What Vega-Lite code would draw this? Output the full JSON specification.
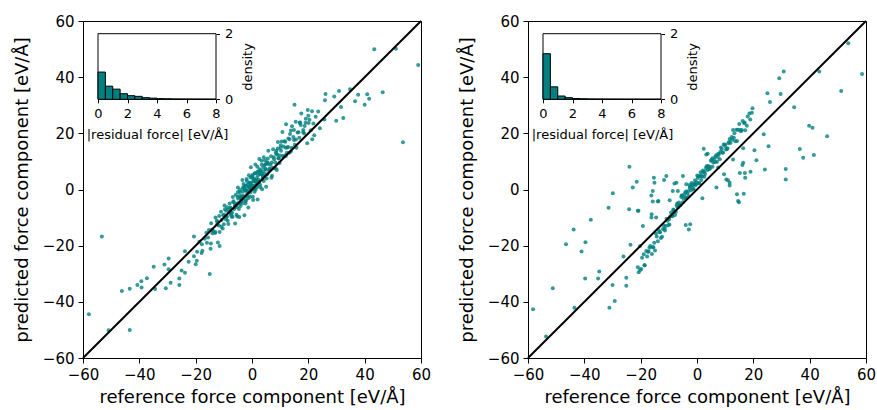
{
"$schema": "https://vega.github.io/schema/vega-lite/v6.json",
"background": "white",
"padding": {"left": 12, "top": 13, "right": 5, "bottom": 5},
"bounds": "flush",
"spacing": 107,
"config": {
 "font": "DejaVu Sans",
 "view": {"stroke": "black", "strokeWidth": 1},
 "axis": {"grid": false, "domain": false, "tickColor": "black", "labelColor": "black", "titleColor": "black", "titleFontWeight": "normal", "tickSize": 5, "labelFontSize": 15, "titleFontSize": 18, "labelPadding": 4, "labelFlush": false, "labelOverlap": false, "titlePadding": 5}
},
"datasets": {
 "diag": [{"ref": -60, "pred": -60}, {"ref": 60, "pred": 60}],
 "hL": [{"lo":0,"hi":0.5,"density":0.83},{"lo":0.5,"hi":1,"density":0.40},{"lo":1,"hi":1.5,"density":0.31},{"lo":1.5,"hi":2,"density":0.17},{"lo":2,"hi":2.5,"density":0.11},{"lo":2.5,"hi":3,"density":0.09},{"lo":3,"hi":3.5,"density":0.05},{"lo":3.5,"hi":4,"density":0.035},{"lo":4,"hi":4.5,"density":0.02},{"lo":4.5,"hi":5,"density":0.015},{"lo":5,"hi":5.5,"density":0.01},{"lo":5.5,"hi":6,"density":0.008},{"lo":6,"hi":6.5,"density":0.006},{"lo":6.5,"hi":7,"density":0.005},{"lo":7,"hi":7.5,"density":0.004},{"lo":7.5,"hi":8,"density":0.003}],
 "hR": [{"lo":0,"hi":0.5,"density":1.39},{"lo":0.5,"hi":1,"density":0.38},{"lo":1,"hi":1.5,"density":0.10},{"lo":1.5,"hi":2,"density":0.05},{"lo":2,"hi":2.5,"density":0.025},{"lo":2.5,"hi":3,"density":0.015},{"lo":3,"hi":3.5,"density":0.01},{"lo":3.5,"hi":4,"density":0.008},{"lo":4,"hi":4.5,"density":0.006},{"lo":4.5,"hi":5,"density":0.005},{"lo":5,"hi":5.5,"density":0.004},{"lo":5.5,"hi":6,"density":0.003},{"lo":6,"hi":6.5,"density":0.003},{"lo":6.5,"hi":7,"density":0.002},{"lo":7,"hi":7.5,"density":0.002},{"lo":7.5,"hi":8,"density":0.002}],
 "L": [
{"ref":-53.3,"pred":-16.7},{"ref":-57.9,"pred":-44.4},{"ref":-50.9,"pred":-50.1},{"ref":-43.4,"pred":-50},{"ref":-46.2,"pred":-36.1},{"ref":-43.4,"pred":-35.3},{"ref":-40.7,"pred":-34},{"ref":-39.3,"pred":-32.7},{"ref":-37.3,"pred":-31.6},{"ref":-39.2,"pred":-34.9},{"ref":-34.9,"pred":-27.5},{"ref":-34.4,"pred":-35.4},{"ref":-31.1,"pred":-26.7},{"ref":-29.6,"pred":-24.6},{"ref":-29.6,"pred":-28.4},{"ref":-30.6,"pred":-35.2},{"ref":-28.9,"pred":-33.2},{"ref":-25.8,"pred":-31.7},{"ref":-25.8,"pred":-34},{"ref":-25,"pred":-28.8},{"ref":-23.8,"pred":-22},{"ref":-23.8,"pred":-29.6},{"ref":-22.5,"pred":-25.7},{"ref":-20.6,"pred":-16.7},{"ref":-20.6,"pred":-23.8},{"ref":-19.6,"pred":-25.4},{"ref":-20,"pred":-26.6},{"ref":-17.8,"pred":-19.5},{"ref":-17.9,"pred":-22.6},{"ref":-15,"pred":-30.1},{"ref":-14.7,"pred":-21.1},{"ref":-14.5,"pred":-12},{"ref":-12.1,"pred":-18.9},{"ref":-11.5,"pred":-20.1},{"ref":-16.2,"pred":-15.4},{"ref":-15.6,"pred":-17.1},
{"ref":43.4,"pred":49.9},{"ref":51.1,"pred":50.1},{"ref":59,"pred":44.3},{"ref":53.6,"pred":16.8},{"ref":15.1,"pred":30.2},{"ref":26.1,"pred":34},{"ref":25.9,"pred":31.8},{"ref":30.9,"pred":35.1},{"ref":29.2,"pred":33.1},{"ref":34.8,"pred":35.7},{"ref":37.7,"pred":33.7},{"ref":40.9,"pred":33.9},{"ref":41.6,"pred":32.3},{"ref":46.4,"pred":34.6},{"ref":36.6,"pred":31.4},{"ref":40,"pred":30.2},{"ref":31.6,"pred":29.4},{"ref":29.9,"pred":24.5},{"ref":32.4,"pred":25.5},{"ref":20,"pred":26.3},{"ref":20.4,"pred":24.8},{"ref":24.1,"pred":21.8},{"ref":25.7,"pred":24.9},{"ref":21.4,"pred":17.9},{"ref":19.6,"pred":16.5},{"ref":18.7,"pred":22.6},
{"ref":10.8,"pred":20.5},{"ref":12.1,"pred":23.2},{"ref":13.5,"pred":19.8},{"ref":14.2,"pred":22.5},{"ref":15.5,"pred":24.1},{"ref":16.2,"pred":20.3},{"ref":17.1,"pred":23.9},{"ref":18.2,"pred":21.2},{"ref":19.1,"pred":25.2},{"ref":11.5,"pred":17.2},{"ref":12.8,"pred":15.1},{"ref":14.9,"pred":17.6},{"ref":16.8,"pred":18.4},{"ref":18.5,"pred":19.9},{"ref":20.9,"pred":21.1},{"ref":21.8,"pred":23.5},{"ref":22.6,"pred":25.9},{"ref":17.5,"pred":27.1},{"ref":19.8,"pred":28.3},{"ref":13.2,"pred":13.1},{"ref":15.8,"pred":14.9},{"ref":10.1,"pred":14.8},{"ref":11.9,"pred":12.2},{"ref":9.2,"pred":16.9},{"ref":8.5,"pred":13.2},{"ref":23.5,"pred":27.8},{"ref":22.1,"pred":19.3},
{"ref":-14.2,"pred":-14.3},{"ref":-13.1,"pred":-15.5},{"ref":-12.5,"pred":-11.1},{"ref":-11.8,"pred":-12.8},{"ref":-11,"pred":-7.9},{"ref":-10.4,"pred":-13.9},{"ref":-9.9,"pred":-9},{"ref":-9.3,"pred":-10.6},{"ref":-8.8,"pred":-6.3},{"ref":-8.1,"pred":-8.1},{"ref":-7.7,"pred":-6.4},{"ref":-7.2,"pred":-9.7},{"ref":-6.8,"pred":-2.7},{"ref":-6.3,"pred":-6.9},{"ref":-5.9,"pred":-5},{"ref":-5.5,"pred":-9},{"ref":-5.1,"pred":-2.6},{"ref":-4.8,"pred":-4.8},{"ref":-4.4,"pred":-2.3},{"ref":-4.1,"pred":-5.9},{"ref":-3.8,"pred":-2.9},{"ref":-3.5,"pred":-5},{"ref":-3.2,"pred":-0.8},{"ref":-2.9,"pred":-3},{"ref":-2.6,"pred":1.3},{"ref":-2.3,"pred":-5},{"ref":-2,"pred":-0.3},{"ref":-1.8,"pred":-2.4},{"ref":-1.5,"pred":1.8},{"ref":-1.2,"pred":-0.5},{"ref":-1,"pred":1},{"ref":-0.7,"pred":-2.6},{"ref":-0.5,"pred":4.3},{"ref":-0.2,"pred":-0.2},{"ref":0,"pred":1.5},{"ref":0.3,"pred":-2.6},{"ref":0.5,"pred":3.6},{"ref":0.8,"pred":1.4},{"ref":1,"pred":3.6},{"ref":1.3,"pred":0},{"ref":1.5,"pred":3},{"ref":1.8,"pred":0.9},{"ref":2.1,"pred":5},{"ref":2.4,"pred":2.8},{"ref":2.7,"pred":7.2},{"ref":3,"pred":0.8},{"ref":3.3,"pred":5.5},{"ref":3.7,"pred":3.7},{"ref":4,"pred":7.8},{"ref":4.4,"pred":5.6},{"ref":4.8,"pred":7.4},{"ref":5.2,"pred":3.9},{"ref":5.6,"pred":11},{"ref":6.1,"pred":6.7},{"ref":6.6,"pred":8.8},{"ref":7.1,"pred":4.9},{"ref":7.7,"pred":11.5},{"ref":8.3,"pred":9.6},{"ref":9,"pred":12.4},{"ref":9.8,"pred":9.4},
{"ref":-14.05,"pred":-15.6},{"ref":-12.95,"pred":-10},{"ref":-12.35,"pred":-12.5},{"ref":-11.65,"pred":-9.4},{"ref":-10.85,"pred":-13.3},{"ref":-10.25,"pred":-9.2},{"ref":-9.75,"pred":-5.7},{"ref":-9.15,"pred":-9.8},{"ref":-8.65,"pred":-11.1},{"ref":-7.95,"pred":-5},{"ref":-7.55,"pred":-6.7},{"ref":-7.05,"pred":-8.3},{"ref":-6.65,"pred":-4.5},{"ref":-6.15,"pred":-6.2},{"ref":-5.75,"pred":-1.9},{"ref":-5.35,"pred":-6.2},{"ref":-4.95,"pred":-3.2},{"ref":-4.65,"pred":-6.9},{"ref":-4.25,"pred":-0.2},{"ref":-3.95,"pred":-3.1},{"ref":-3.65,"pred":-4.1},{"ref":-3.35,"pred":0.5},{"ref":-3.05,"pred":-2.3},{"ref":-2.75,"pred":0.4},{"ref":-2.45,"pred":-4.1},{"ref":-2.15,"pred":-0.3},{"ref":-1.85,"pred":3},{"ref":-1.65,"pred":-1.5},{"ref":-1.35,"pred":-3.1},{"ref":-1.05,"pred":2.5},{"ref":-0.85,"pred":0.7},{"ref":-0.55,"pred":-1.1},{"ref":-0.35,"pred":2.4},{"ref":-0.05,"pred":0.5},{"ref":0.15,"pred":4.6},{"ref":0.45,"pred":0.2},{"ref":0.65,"pred":2.9},{"ref":0.95,"pred":-0.8},{"ref":1.15,"pred":5.8},{"ref":1.45,"pred":2.8},{"ref":1.65,"pred":1.7},{"ref":1.95,"pred":6.3},{"ref":2.25,"pred":3.6},{"ref":2.55,"pred":6.2},{"ref":2.85,"pred":1.7},{"ref":3.15,"pred":5.6},{"ref":3.45,"pred":8.8},{"ref":3.85,"pred":4.5},{"ref":4.15,"pred":3},{"ref":4.55,"pred":8.7},{"ref":4.95,"pred":7},{"ref":5.35,"pred":5.4},{"ref":5.75,"pred":9.1},{"ref":6.25,"pred":7.5},{"ref":6.75,"pred":11.8},{"ref":7.25,"pred":7.7},{"ref":7.85,"pred":10.8},{"ref":8.45,"pred":7.5},{"ref":9.15,"pred":14.6},{"ref":9.95,"pred":12.1},
{"ref":-4.3,"pred":-1},{"ref":-3.6,"pred":-2.8},{"ref":-3,"pred":2},{"ref":-2.5,"pred":-0.3},{"ref":-2.1,"pred":1.3},{"ref":-1.6,"pred":-1.1},{"ref":-1.1,"pred":5.1},{"ref":-0.7,"pred":2.3},{"ref":-0.3,"pred":1.5},{"ref":0.2,"pred":5.2},{"ref":0.6,"pred":3.1},{"ref":1,"pred":5.8},{"ref":1.4,"pred":2.8},{"ref":1.9,"pred":8.1},{"ref":2.3,"pred":6.2},{"ref":2.8,"pred":5.5},{"ref":3.4,"pred":10.2},{"ref":3.9,"pred":6.4},{"ref":4.6,"pred":10.4},{"ref":5.4,"pred":9.4},
{"ref":-6,"pred":-12.1},{"ref":-5,"pred":0.7},{"ref":-4.5,"pred":-9.8},{"ref":-3.4,"pred":3.4},{"ref":-2.7,"pred":-9.2},{"ref":-1.9,"pred":3.7},{"ref":-1.3,"pred":-6.4},{"ref":-0.4,"pred":7.9},{"ref":0.4,"pred":-3.7},{"ref":1.2,"pred":8.9},{"ref":2,"pred":-3.6},{"ref":2.6,"pred":10.9},{"ref":3.6,"pred":0.1},{"ref":4.2,"pred":11.5},{"ref":5,"pred":1},{"ref":5.8,"pred":13.8},{"ref":6.9,"pred":4.2},{"ref":7.5,"pred":14.3},{"ref":8.8,"pred":6.9},{"ref":10.5,"pred":17.1},{"ref":11.2,"pred":15.3},{"ref":12.4,"pred":13.1},
{"ref":10.3,"pred":13.8},{"ref":11,"pred":11.9},{"ref":11.8,"pred":17},{"ref":12.6,"pred":15},{"ref":13.3,"pred":17.9},{"ref":14.1,"pred":14.9},{"ref":14.9,"pred":21.2},{"ref":15.6,"pred":17.8},{"ref":16.5,"pred":20.4},{"ref":17.3,"pred":23},{"ref":18.2,"pred":20.4},{"ref":19,"pred":23.8},{"ref":20.1,"pred":23.7},{"ref":21.3,"pred":27.9},{"ref":12,"pred":11.9},{"ref":13.8,"pred":21},{"ref":15.2,"pred":15.9},{"ref":16.9,"pred":23.8},{"ref":9.5,"pred":11.1},{"ref":8.7,"pred":13.8},
{"ref":-19.5,"pred":-22.2},{"ref":-18.7,"pred":-18.6},{"ref":-17.6,"pred":-21.8},{"ref":-16.8,"pred":-17.5},{"ref":-16,"pred":-19},{"ref":-15.3,"pred":-14.4},{"ref":-14.6,"pred":-19.2},{"ref":-13.8,"pred":-14.7},{"ref":-13,"pred":-15.1},{"ref":-12.3,"pred":-11.6},{"ref":-11.5,"pred":-15.1},{"ref":-10.8,"pred":-10.9},{"ref":-10,"pred":-12.4},{"ref":-9.2,"pred":-7.6},{"ref":-8.4,"pred":-12.3},{"ref":-7.6,"pred":-8.5},{"ref":-6.9,"pred":-9.7},{"ref":-6,"pred":-5.6},{"ref":-5.2,"pred":-9.6},{"ref":-3.9,"pred":-3.9},
{"ref":-9.6,"pred":-7},{"ref":-8.9,"pred":-9.6},{"ref":-8.2,"pred":-7.1},{"ref":-7.4,"pred":-9.2},{"ref":-6.6,"pred":-4.2},{"ref":-5.8,"pred":-5.6},{"ref":-5,"pred":-0.9},{"ref":-4.3,"pred":-5.1},{"ref":-3.6,"pred":-2.3},{"ref":-2.8,"pred":0.9},{"ref":-2.1,"pred":-4},{"ref":-1.4,"pred":1},{"ref":-0.6,"pred":0.4},{"ref":0.1,"pred":4.4},{"ref":0.9,"pred":0.3},{"ref":1.6,"pred":4},{"ref":2.4,"pred":2.6},{"ref":3.1,"pred":6.8},{"ref":3.9,"pred":4.9},{"ref":4.7,"pred":9},{"ref":5.5,"pred":9.7},{"ref":6.3,"pred":7.1},{"ref":7,"pred":9.6},{"ref":7.9,"pred":7.6},{"ref":8.6,"pred":12.6},{"ref":9.4,"pred":11.1},{"ref":10.2,"pred":15.8},{"ref":11.1,"pred":11.8},{"ref":12,"pred":14.9},{"ref":12.9,"pred":18.2},{"ref":13.8,"pred":13.5},{"ref":14.7,"pred":18.7}
 ],
 "R": [
{"ref":-58.2,"pred":-42.6},{"ref":-53.6,"pred":-52.3},{"ref":-51.2,"pred":-35.2},{"ref":-43.5,"pred":-42.1},{"ref":-46.5,"pred":-19.5},{"ref":-43.8,"pred":-14.2},{"ref":-41,"pred":-22.1},{"ref":-39.6,"pred":-18.8},{"ref":-37.7,"pred":-10.8},{"ref":-39.7,"pred":-31.7},{"ref":-35.1,"pred":-31.7},{"ref":-34.7,"pred":-29.2},{"ref":-31.1,"pred":-42.1},{"ref":-29.2,"pred":-39.7},{"ref":-30,"pred":-34},{"ref":-31.4,"pred":-6.5},{"ref":-29.9,"pred":-1.3},{"ref":-26.1,"pred":-23.9},{"ref":-25.1,"pred":-31.4},{"ref":-25.1,"pred":-34.3},{"ref":-24,"pred":8.1},{"ref":-24.1,"pred":-7},{"ref":-22.8,"pred":0.7},{"ref":-21.4,"pred":2.8},{"ref":-23.6,"pred":-19.7},{"ref":-20.8,"pred":-7.6},{"ref":-19.2,"pred":-13},{"ref":-20.2,"pred":-20.1},{"ref":-20.2,"pred":-28.7},{"ref":-18.6,"pred":-27},{"ref":-18,"pred":-21.9},{"ref":-16.2,"pred":-2.1},{"ref":-15.3,"pred":4.2},{"ref":-15.1,"pred":2.4},{"ref":-15.7,"pred":-4.3},{"ref":-16.1,"pred":-8.8},{"ref":-14.5,"pred":-10},{"ref":-13.7,"pred":-4.1},{"ref":-10.9,"pred":4.8},{"ref":-11.7,"pred":3.4},{"ref":-9.7,"pred":-3.8},{"ref":-8.6,"pred":-0.5},{"ref":-8,"pred":2.1},{"ref":-3.8,"pred":1.9},{"ref":-4,"pred":-12.6},{"ref":-5,"pred":4.8},
{"ref":53.7,"pred":52.1},{"ref":51.2,"pred":35.1},{"ref":43.4,"pred":42},{"ref":30.8,"pred":42},{"ref":29.2,"pred":39.6},{"ref":25,"pred":34.3},{"ref":29.7,"pred":34},{"ref":25.9,"pred":31.2},{"ref":19.7,"pred":28.9},{"ref":34.5,"pred":29.3},{"ref":39.8,"pred":22.7},{"ref":41,"pred":22},{"ref":46.2,"pred":19},{"ref":36.5,"pred":14.4},{"ref":37.7,"pred":11.3},{"ref":41.5,"pred":12.3},{"ref":31.5,"pred":7.3},{"ref":31.5,"pred":3.6},{"ref":25.4,"pred":15.4},{"ref":23.7,"pred":19.7},{"ref":20.4,"pred":14},{"ref":21.1,"pred":10.4},{"ref":24.1,"pred":7.1},{"ref":19,"pred":6.3},{"ref":16.4,"pred":14.7},{"ref":16.1,"pred":8.7},{"ref":17.1,"pred":4.2},{"ref":14.9,"pred":-4.5},{"ref":11,"pred":3.3},{"ref":11.6,"pred":1.4},{"ref":14.2,"pred":-1.7},{"ref":16.6,"pred":-1.5},{"ref":7.5,"pred":7.8},{"ref":9.6,"pred":5.4},{"ref":6.9,"pred":0.7},{"ref":1.9,"pred":-3.1},{"ref":2.4,"pred":14.5},{"ref":3.8,"pred":12.7},{"ref":58.6,"pred":41.1},
{"ref":-21,"pred":-27.7},{"ref":-19.8,"pred":-28.3},{"ref":-18.9,"pred":-23.1},{"ref":-17.7,"pred":-23.9},{"ref":-16.9,"pred":-20.7},{"ref":-16,"pred":-23},{"ref":-15.2,"pred":-19},{"ref":-14.6,"pred":-15.7},{"ref":-13.9,"pred":-18.4},{"ref":-13.1,"pred":-15.2},{"ref":-12.4,"pred":-16.8},{"ref":-11.8,"pred":-12.8},{"ref":-11.1,"pred":-13},{"ref":-10.5,"pred":-11.1},{"ref":-9.8,"pred":-12.5},{"ref":-9.2,"pred":-8.2},{"ref":-8.7,"pred":-9.5},{"ref":-8.1,"pred":-7.7},{"ref":-7.5,"pred":-8},{"ref":-7,"pred":-5},{"ref":-6.4,"pred":-4.6},{"ref":-5.9,"pred":-5.5},{"ref":-5.3,"pred":-2.1},{"ref":-4.8,"pred":-3.2},{"ref":-4.2,"pred":-1.1},{"ref":-3.7,"pred":-3},{"ref":-3.2,"pred":-0.6},{"ref":-2.7,"pred":1.6},{"ref":-2.2,"pred":-0.4},{"ref":-1.7,"pred":1.5},{"ref":-1.2,"pred":0.3},{"ref":-0.7,"pred":3.3},{"ref":-0.2,"pred":2.6},{"ref":0.3,"pred":4.1},{"ref":0.8,"pred":2.2},{"ref":1.3,"pred":6.1},{"ref":1.8,"pred":4.6},{"ref":2.3,"pred":6.1},{"ref":2.9,"pred":5.5},{"ref":3.4,"pred":8.3},{"ref":4,"pred":8.4},{"ref":4.6,"pred":7.4},{"ref":5.2,"pred":10.6},{"ref":5.8,"pred":9.6},{"ref":6.5,"pred":11.7},{"ref":7.1,"pred":9.9},{"ref":7.8,"pred":12.6},{"ref":8.5,"pred":15},{"ref":9.2,"pred":13.2},{"ref":10,"pred":15.5},{"ref":10.8,"pred":14.7},{"ref":11.6,"pred":18},{"ref":12.5,"pred":17.7},{"ref":13.3,"pred":20},{"ref":14.2,"pred":17.3},{"ref":15,"pred":23.3},{"ref":15.9,"pred":21.2},{"ref":16.8,"pred":23.6},{"ref":17.7,"pred":22.7},{"ref":18.6,"pred":27.1},{"ref":19.5,"pred":27.3},
{"ref":-20.7,"pred":-29.5},{"ref":-19.5,"pred":-24.3},{"ref":-18.6,"pred":-27},{"ref":-17.4,"pred":-22.2},{"ref":-16.6,"pred":-20.1},{"ref":-15.7,"pred":-20.6},{"ref":-14.9,"pred":-21.7},{"ref":-14.3,"pred":-16.7},{"ref":-13.6,"pred":-14.4},{"ref":-12.8,"pred":-17.3},{"ref":-12.1,"pred":-14.1},{"ref":-11.5,"pred":-14.1},{"ref":-10.8,"pred":-10.4},{"ref":-10.2,"pred":-12.7},{"ref":-9.5,"pred":-9.6},{"ref":-8.9,"pred":-9.3},{"ref":-8.4,"pred":-7.1},{"ref":-7.8,"pred":-9.1},{"ref":-7.2,"pred":-5.6},{"ref":-6.7,"pred":-6.2},{"ref":-6.1,"pred":-5.7},{"ref":-5.6,"pred":-2.7},{"ref":-5,"pred":-4.5},{"ref":-4.5,"pred":-2},{"ref":-3.9,"pred":-0.7},{"ref":-3.4,"pred":-1.4},{"ref":-2.9,"pred":-2.4},{"ref":-2.4,"pred":0.9},{"ref":-1.9,"pred":2.3},{"ref":-1.4,"pred":0.1},{"ref":-0.9,"pred":2.1},{"ref":-0.4,"pred":1.8},{"ref":0.1,"pred":5},{"ref":0.6,"pred":2.3},{"ref":1.1,"pred":4.9},{"ref":1.6,"pred":4.8},{"ref":2.1,"pred":6.8},{"ref":2.6,"pred":4.5},{"ref":3.2,"pred":7.7},{"ref":3.7,"pred":6.9},{"ref":4.3,"pred":7.3},{"ref":4.9,"pred":10.2},{"ref":5.5,"pred":8.1},{"ref":6.1,"pred":10.7},{"ref":6.8,"pred":12.2},{"ref":7.4,"pred":11.6},{"ref":8.1,"pred":10.8},{"ref":8.8,"pred":14.4},{"ref":9.5,"pred":16},{"ref":10.3,"pred":14.2},{"ref":11.1,"pred":16.5},{"ref":11.9,"pred":16.6},{"ref":12.8,"pred":21.2},{"ref":13.6,"pred":17.2},{"ref":14.5,"pred":21.3},{"ref":15.3,"pred":21.2},{"ref":16.2,"pred":24.4},{"ref":17.1,"pred":21.1},{"ref":18,"pred":26},{"ref":18.9,"pred":24.9},
{"ref":-7.3,"pred":2.4},{"ref":-6.8,"pred":-0.5},{"ref":-15.7,"pred":-0.5},{"ref":-13.9,"pred":-4.3},{"ref":-16.2,"pred":-10},{"ref":-21,"pred":-7.6},{"ref":-2.9,"pred":-14.2},{"ref":-2.4,"pred":-12.4},{"ref":3.3,"pred":12.5},{"ref":10.4,"pred":3.6},{"ref":11.6,"pred":2.4},{"ref":15.2,"pred":5.9},{"ref":16.4,"pred":9.5},{"ref":14.6,"pred":-4.1},{"ref":12.8,"pred":10.7},{"ref":17,"pred":5.9},
{"ref":-17.2,"pred":-22.1},{"ref":-15.5,"pred":-20.6},{"ref":-13.3,"pred":-15.2},{"ref":-11.4,"pred":-14.6},{"ref":-9.9,"pred":-10.6},{"ref":-8.3,"pred":-7.4},{"ref":-6.9,"pred":-6.3},{"ref":-5.4,"pred":-2.1},{"ref":-4.1,"pred":-2.9},{"ref":-2.6,"pred":0.5},{"ref":-1.5,"pred":1.6},{"ref":-0.5,"pred":1.6},{"ref":0.5,"pred":4.7},{"ref":1.5,"pred":3.4},{"ref":2.6,"pred":6.3},{"ref":3.6,"pred":8.2},{"ref":4.5,"pred":8.1},{"ref":5.5,"pred":11.1},{"ref":6.4,"pred":9.7},{"ref":7.5,"pred":12.6},{"ref":8.3,"pred":13.4},{"ref":9.1,"pred":13.1},{"ref":9.9,"pred":16},{"ref":10.7,"pred":14.4},{"ref":11.4,"pred":16.9},{"ref":12.3,"pred":18.7},{"ref":13.1,"pred":18.4},{"ref":14,"pred":21.3},{"ref":15.6,"pred":20.7},{"ref":16.9,"pred":23.9}
 ]
},
"hconcat": [
 {
  "width": 338, "height": 337,
  "layer": [
   {"layer": [
    {"data": {"name": "L"}, "mark": {"type": "circle", "size": 16, "color": "#008080", "opacity": 0.8},
     "encoding": {
      "x": {"field": "ref", "type": "quantitative", "scale": {"domain": [-60, 60], "nice": false, "zero": false}, "axis": {"values": [-60,-40,-20,0,20,40,60], "title": "reference force component [eV/Å]", "titlePadding": 6}},
      "y": {"field": "pred", "type": "quantitative", "scale": {"domain": [-60, 60], "nice": false, "zero": false}, "axis": {"values": [-60,-40,-20,0,20,40,60], "title": "predicted force component [eV/Å]", "titlePadding": 11}}
     }},
    {"data": {"name": "diag"}, "mark": {"type": "line", "color": "black", "strokeWidth": 2},
     "encoding": {"x": {"field": "ref", "type": "quantitative"}, "y": {"field": "pred", "type": "quantitative"}}}
   ]},
   {"layer": [
    {"data": {"values": [{}]}, "mark": {"type": "rect", "fill": "white", "stroke": "black", "strokeWidth": 1},
     "encoding": {
      "x": {"datum": 0, "type": "quantitative", "scale": {"domain": [0, 8], "range": [15, 133], "nice": false, "zero": false},
            "axis": {"orient": "bottom", "offset": -258.7, "values": [0,2,4,6,8], "format": "d", "title": "|residual force| [eV/Å]", "labelFontSize": 13, "titleFontSize": 13, "tickSize": 3.5, "labelPadding": 5, "titlePadding": 8}},
      "x2": {"datum": 8},
      "y": {"datum": 0, "type": "quantitative", "scale": {"domain": [0, 2], "range": [78.3, 12.7], "nice": false, "zero": false},
            "axis": {"orient": "right", "offset": -205, "values": [0,1,2], "format": "d", "title": "density", "titleAngle": 270, "titleBaseline": "top", "labelFontSize": 13, "titleFontSize": 13, "tickSize": 3.5, "labelPadding": 5, "titlePadding": 9}},
      "y2": {"datum": 2}
     }},
    {"data": {"name": "hL"}, "mark": {"type": "rect", "fill": "#008080", "stroke": "black", "strokeWidth": 1},
     "encoding": {
      "x": {"field": "lo", "type": "quantitative"},
      "x2": {"field": "hi"},
      "y": {"field": "density", "type": "quantitative"},
      "y2": {"datum": 0}
     }}
   ]}
  ],
  "resolve": {"scale": {"x": "independent", "y": "independent"}, "axis": {"x": "independent", "y": "independent"}}
 },
 {
  "width": 338, "height": 337,
  "layer": [
   {"layer": [
    {"data": {"name": "R"}, "mark": {"type": "circle", "size": 16, "color": "#008080", "opacity": 0.8},
     "encoding": {
      "x": {"field": "ref", "type": "quantitative", "scale": {"domain": [-60, 60], "nice": false, "zero": false}, "axis": {"values": [-60,-40,-20,0,20,40,60], "title": "reference force component [eV/Å]", "titlePadding": 6}},
      "y": {"field": "pred", "type": "quantitative", "scale": {"domain": [-60, 60], "nice": false, "zero": false}, "axis": {"values": [-60,-40,-20,0,20,40,60], "title": "predicted force component [eV/Å]", "titlePadding": 11}}
     }},
    {"data": {"name": "diag"}, "mark": {"type": "line", "color": "black", "strokeWidth": 2},
     "encoding": {"x": {"field": "ref", "type": "quantitative"}, "y": {"field": "pred", "type": "quantitative"}}}
   ]},
   {"layer": [
    {"data": {"values": [{}]}, "mark": {"type": "rect", "fill": "white", "stroke": "black", "strokeWidth": 1},
     "encoding": {
      "x": {"datum": 0, "type": "quantitative", "scale": {"domain": [0, 8], "range": [15, 133], "nice": false, "zero": false},
            "axis": {"orient": "bottom", "offset": -258.7, "values": [0,2,4,6,8], "format": "d", "title": "|residual force| [eV/Å]", "labelFontSize": 13, "titleFontSize": 13, "tickSize": 3.5, "labelPadding": 5, "titlePadding": 8}},
      "x2": {"datum": 8},
      "y": {"datum": 0, "type": "quantitative", "scale": {"domain": [0, 2], "range": [78.3, 12.7], "nice": false, "zero": false},
            "axis": {"orient": "right", "offset": -205, "values": [0,1,2], "format": "d", "title": "density", "titleAngle": 270, "titleBaseline": "top", "labelFontSize": 13, "titleFontSize": 13, "tickSize": 3.5, "labelPadding": 5, "titlePadding": 9}},
      "y2": {"datum": 2}
     }},
    {"data": {"name": "hR"}, "mark": {"type": "rect", "fill": "#008080", "stroke": "black", "strokeWidth": 1},
     "encoding": {
      "x": {"field": "lo", "type": "quantitative"},
      "x2": {"field": "hi"},
      "y": {"field": "density", "type": "quantitative"},
      "y2": {"datum": 0}
     }}
   ]}
  ],
  "resolve": {"scale": {"x": "independent", "y": "independent"}, "axis": {"x": "independent", "y": "independent"}}
 }
]
}
